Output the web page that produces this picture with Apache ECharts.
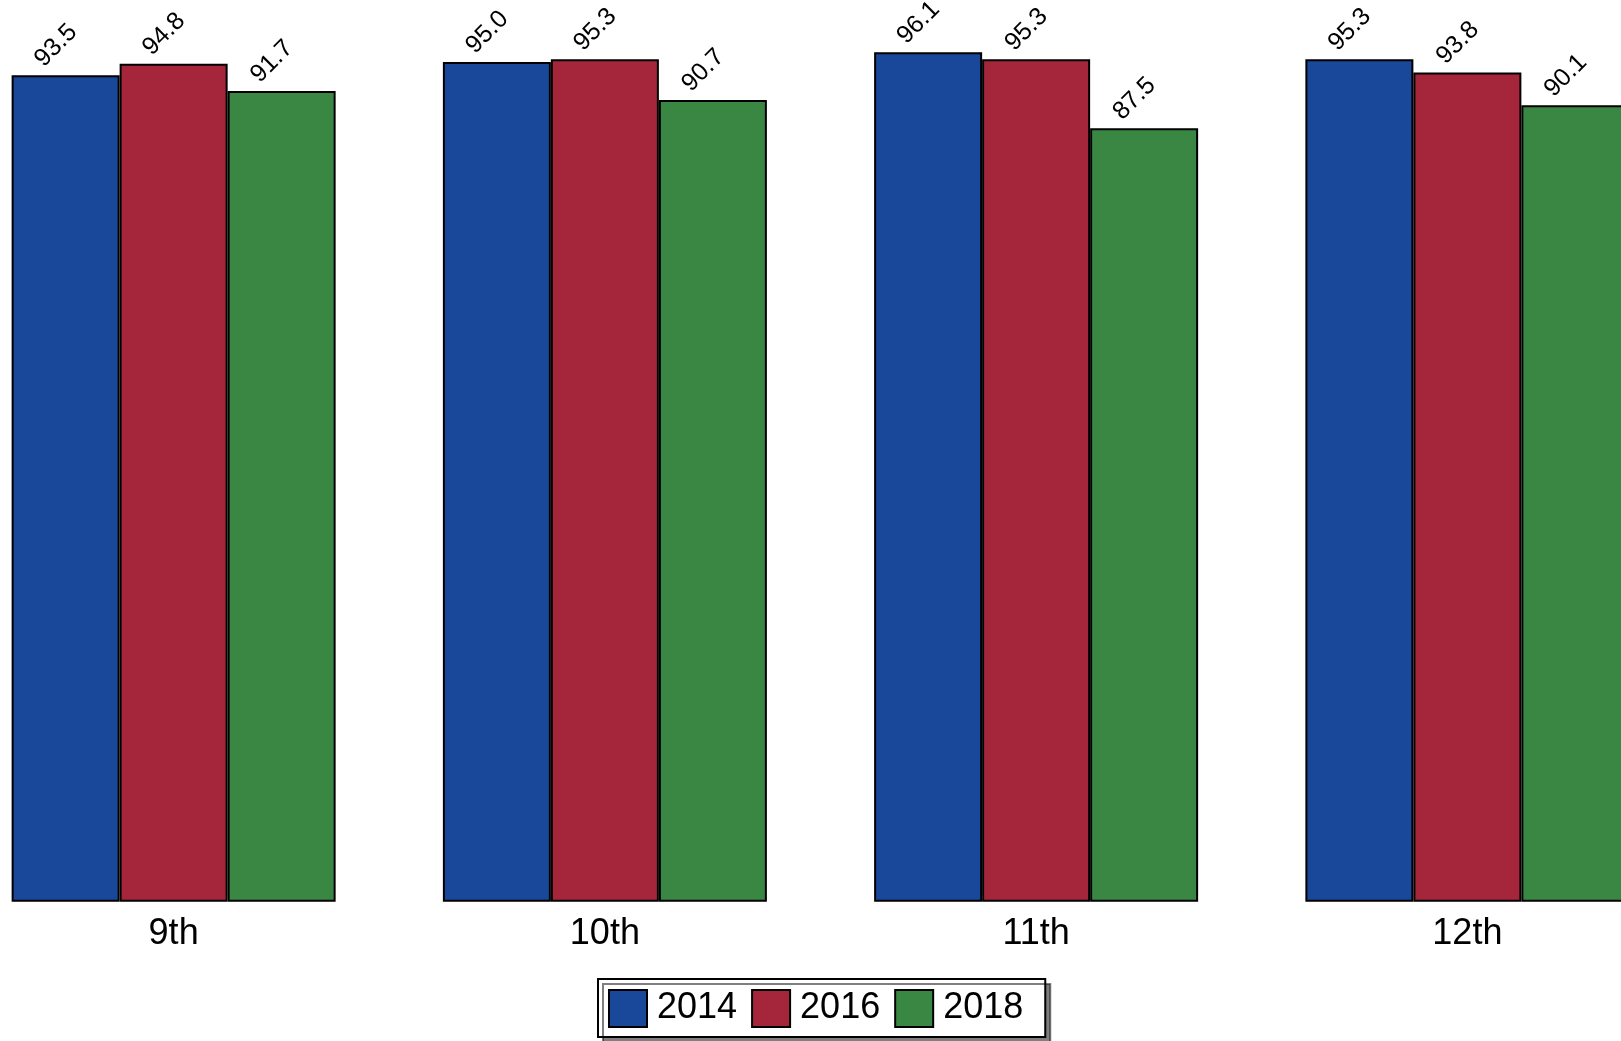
<!DOCTYPE html>
<html>
<head>
<meta charset="utf-8">
<script src="https://cdn.jsdelivr.net/npm/echarts@6/dist/echarts.min.js"></script>
<style>html,body{margin:0;padding:0;background:#fff;overflow:hidden;width:1621px;height:1041px;}
#c{position:absolute;left:-42px;top:0;width:1725px;height:1041px;}</style>
</head>
<body>
<div id="c"></div>
<script>
const categories = ['9th', '10th', '11th', '12th'];
const seriesNames = ['2014', '2016', '2018'];
const values2014 = [93.5, 95.0, 96.1, 95.3];
const values2016 = [94.8, 95.3, 95.3, 93.8];
const values2018 = [91.7, 90.7, 87.5, 90.1];
const colors = ['#19479A', '#A5263B', '#3A8743'];

const FONT = 'Liberation Sans, Arial, sans-serif';
const allValues = [values2014, values2016, values2018];

const chart = echarts.init(document.getElementById('c'), null, {renderer: 'canvas'});
chart.setOption({
  animation: false,
  backgroundColor: '#ffffff',
  grid: {left: 0, right: 0, top: 17.7, bottom: 139.3, containLabel: false},
  legend: {
    data: seriesNames,
    left: 640, top: 979,
    orient: 'horizontal',
    itemWidth: 38, itemHeight: 37, itemGap: 14,
    padding: [10, 22, 9, 10],
    backgroundColor: '#ffffff',
    borderColor: '#000000', borderWidth: 2, borderRadius: 0,
    shadowColor: 'rgba(0,0,0,0.5)', shadowBlur: 0.01, shadowOffsetX: 5, shadowOffsetY: 5,
    textStyle: {fontFamily: FONT, fontSize: 36, color: '#000', padding: [4, 0, 0, 5]},
    icon: 'rect'
  },
  xAxis: {
    type: 'category', data: categories,
    axisLine: {show: false}, axisTick: {show: false},
    axisLabel: {fontFamily: FONT, fontSize: 36, color: '#000', margin: 14}
  },
  yAxis: {
    type: 'value', min: 0, max: 100, show: false,
    splitLine: {show: false}
  },
  labelLayout: function (p) {
    return {
      x: p.rect.x + 36, y: p.rect.y - 3.5,
      rotate: 45, align: 'left', verticalAlign: 'bottom'
    };
  },
  series: seriesNames.map((n, i) => ({
    name: n, type: 'bar', data: allValues[i],
    barWidth: 108, barGap: '0%',
    itemStyle: {color: colors[i], borderColor: '#000', borderWidth: 2},
    label: {
      show: true, position: 'top',
      fontFamily: FONT, fontSize: 25, color: '#000',
      formatter: p => p.value.toFixed(1)
    }
  }))
});
</script>
</body>
</html>
